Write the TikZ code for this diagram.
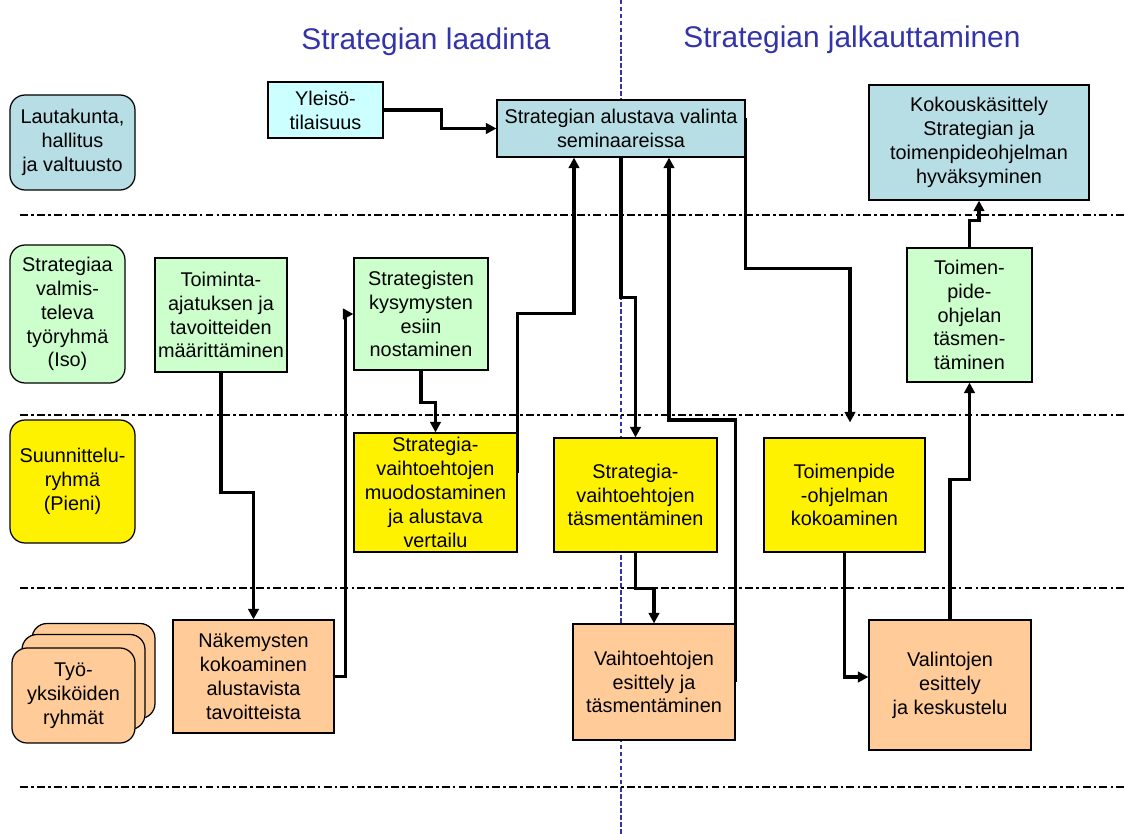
\documentclass[tikz,border=0pt]{standalone}
\usepackage{fontspec}
\setmainfont{Liberation Sans}
\usepackage{tikz}
\usetikzlibrary{arrows.meta}
\usetikzlibrary{positioning}
\definecolor{semiblue}{RGB}{183,222,228}
\definecolor{paleblue}{RGB}{204,255,255}
\definecolor{palegreen}{RGB}{204,255,204}
\definecolor{paleorange}{RGB}{255,204,153}
\definecolor{titleblue}{RGB}{51,51,170}

\begin{document}
\begin{tikzpicture}[x=0.02cm, y=-0.02cm,
	box/.style={draw, line width=0.7pt, align=center, inner sep=0pt,
		font=\fontsize{11.3}{13.6}\selectfont},
	lbl/.style={box, rounded corners=0.3cm},
	arr/.style={line width=2pt, -{Triangle[length=6pt,width=6pt]}},
	sep/.style={line width=1.3pt, dash pattern=on 4.5pt off 1.8pt on 1.5pt off 1.8pt},
	ttl/.style={text=titleblue, font=\fontsize{17}{20}\selectfont}]
	\useasboundingbox (0,0) rectangle (1125,834);
	\draw[titleblue, line width=1pt, dash pattern=on 2.5pt off 1.5pt] (621,0) -- (621,834);
	\node[ttl] (t1) at (426,42) {Strategian laadinta};
	\node[ttl] (t2) at (852,40) {Strategian jalkauttaminen};
	\draw[sep] (20,215) -- (1125,215);
	\draw[sep] (20,415) -- (1125,415);
	\draw[sep] (20,588) -- (1125,588);
	\draw[sep] (20,787) -- (1125,787);
	% rivit
	\node[lbl, fill=semiblue, minimum width=2.5cm, minimum height=1.9cm] (laut) at (72.5,142.5) {Lautakunta,\\hallitus\\ja valtuusto};
	\node[lbl, fill=palegreen, minimum width=2.3cm, minimum height=2.76cm] (valm) at (67.5,314) {Strategiaa\\valmis-\\televa\\työryhmä\\(Iso)};
	\node[lbl, fill=yellow, minimum width=2.5cm, minimum height=2.46cm] (suun) at (72.5,481.5) {Suunnittelu-\\ryhmä\\(Pieni)};
	\node[lbl, fill=paleorange, minimum width=2.46cm, minimum height=1.9cm] (tyo3) at (93.5,671) {};
	\node[lbl, fill=paleorange, minimum width=2.46cm, minimum height=1.9cm] (tyo2) at (83.5,682) {};
	\node[lbl, fill=paleorange, minimum width=2.46cm, minimum height=1.9cm] (tyo) at (73.5,695.5) {Työ-\\yksiköiden\\ryhmät};
	% laatikot
	\node[box, fill=paleblue, minimum width=2.3cm, minimum height=1.12cm] (yleiso) at (325.5,110) {Yleisö-\\tilaisuus};
	\node[box, fill=semiblue, minimum width=4.96cm, minimum height=1.14cm] (semi) at (621,128.5) {Strategian alustava valinta\\seminaareissa};
	\node[box, fill=semiblue, minimum width=4.4cm, minimum height=2.3cm] (koko) at (979,142.5) {Kokouskäsittely\\Strategian ja\\toimenpideohjelman\\hyväksyminen};
	\node[box, fill=palegreen, minimum width=2.64cm, minimum height=2.28cm] (toim) at (221,315) {Toiminta-\\ajatuksen ja\\tavoitteiden\\määrittäminen};
	\node[box, fill=palegreen, minimum width=2.68cm, minimum height=2.24cm] (kysy) at (421,314) {Strategisten\\kysymysten\\esiin\\nostaminen};
	\node[box, fill=palegreen, minimum width=2.5cm, minimum height=2.68cm] (tpide) at (969.5,315) {Toimen-\\pide-\\ohjelan\\täsmen-\\täminen};
	\node[box, fill=yellow, minimum width=3.26cm, minimum height=2.38cm] (muod) at (435.5,492.5) {Strategia-\\vaihtoehtojen\\muodostaminen\\ja alustava\\vertailu};
	\node[box, fill=yellow, minimum width=3.26cm, minimum height=2.28cm] (tasm) at (635.5,495) {Strategia-\\vaihtoehtojen\\täsmentäminen};
	\node[box, fill=yellow, minimum width=3.22cm, minimum height=2.28cm] (ohko) at (844.5,495) {Toimenpide\\-ohjelman\\kokoaminen};
	\node[box, fill=paleorange, minimum width=3.22cm, minimum height=2.26cm] (nake) at (253.5,676.5) {Näkemysten\\kokoaminen\\alustavista\\tavoitteista};
	\node[box, fill=paleorange, minimum width=3.24cm, minimum height=2.32cm] (vaih) at (654,682) {Vaihtoehtojen\\esittely ja\\täsmentäminen};
	\node[box, fill=paleorange, minimum width=3.24cm, minimum height=2.6cm] (vali) at (950,685) {Valintojen\\esittely\\ja keskustelu};
	% nuolet
	\draw[arr] (yleiso.east) -- ++(58,0) |- (semi.west);
	\draw[arr] (toim.south) -- ++(0,120) -| (nake.north);
	\draw[arr] (nake.east) -- ++(11,0) |- (kysy.west);
	\draw[arr] (kysy.south) -- ++(0,32) -| (muod.north);
	\draw[arr] ([yshift=0.4cm]muod.east) -- ++(0,-159) -| ([xshift=-0.94cm]semi.south);
	\draw[arr] (semi.south) -- ++(0,140) -| (tasm.north);
	\draw[arr] (tasm.south) -- ++(0,36) -| (vaih.north);
	\draw[arr] (vaih.east) -- ++(0,-262) -| ([xshift=0.96cm]semi.south);
	\draw[arr, shorten >=0.3cm] ([yshift=0.2cm]semi.east) -- ++(0,150) -| ([xshift=0.11cm]ohko.north);
	\draw[arr] (ohko.south) |- ([yshift=0.16cm]vali.west);
	\draw[arr] (vali.north) -- ++(0,-140) -| (tpide.south);
	\draw[arr] (tpide.north) -- ++(0,-27) -| (koko.south);
\end{tikzpicture}
\end{document}
